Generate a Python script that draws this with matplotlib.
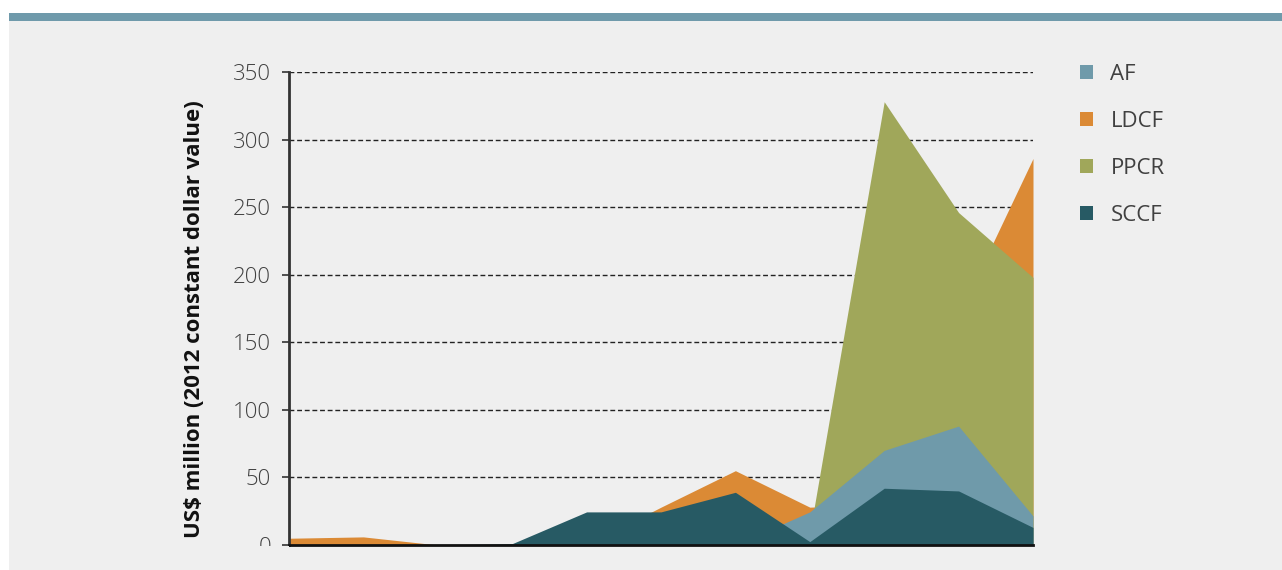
import matplotlib
matplotlib.use("Agg")
import matplotlib.pyplot as plt
from matplotlib.patches import Patch, Rectangle
import numpy as np

plt.rcParams['font.family'] = ['Open Sans', 'DejaVu Sans']

years = [2003, 2004, 2005, 2006, 2007, 2008, 2009, 2010, 2011, 2012, 2013]
ldcf = [5, 6, 0, 0, 0, 28, 55, 28, 30, 170, 286]
ppcr = [0, 0, 0, 0, 0, 0, 0, 9, 328, 246, 198]
af = [0, 0, 0, 0, 0, 0, 0, 24.5, 70, 88, 21.5]
sccf = [0, 0, 0, 1, 24.5, 24.5, 39, 2.5, 42, 40, 13]

colors = {'AF': '#6f9aaa', 'LDCF': '#db8a35', 'PPCR': '#a0a75a', 'SCCF': '#275a64'}
yticks = [0, 50, 100, 150, 200, 250, 300, 350]

W, H = 1282, 570
fig = plt.figure(figsize=(W / 100, H / 100), dpi=100, facecolor='white')

# panel background and top bar
fig.add_artist(Rectangle((9 / W, 0), 1 - 9 / W, 1 - 21 / H, transform=fig.transFigure,
                         facecolor='#efefef', edgecolor='none', zorder=-10))
fig.add_artist(Rectangle((9 / W, 1 - 21 / H), 1 - 9 / W, 8 / H, transform=fig.transFigure,
                         facecolor='#6f9aab', edgecolor='none', zorder=-10))

ax = fig.add_axes([289 / W, 25 / H, (1033 - 289) / W, (545 - 72) / H])
ax.set_facecolor('none')
x = np.arange(len(years))

for name, vals in [('LDCF', ldcf), ('PPCR', ppcr), ('AF', af), ('SCCF', sccf)]:
    ax.fill_between(x, 0, vals, color=colors[name], linewidth=0, zorder=2)

ax.set_xlim(0, len(years) - 1)
ax.set_ylim(0, 350)
ax.set_yticks(yticks)
ax.set_xticks([])
for yv in yticks[1:]:
    ax.axhline(yv, color='#222222', linewidth=1.0, linestyle=(0, (3.5, 2)), zorder=1)

for s in ['top', 'right']:
    ax.spines[s].set_visible(False)
ax.spines['left'].set_color('#333333')
ax.spines['left'].set_linewidth(2)
ax.spines['bottom'].set_color('#111111')
ax.spines['bottom'].set_linewidth(2)
ax.spines['bottom'].set_zorder(5)
ax.tick_params(axis='y', length=5, width=1.2, color='#333333', pad=8,
               labelsize=16, labelcolor='#404040')
for lab in ax.get_yticklabels():
    lab.set_fontweight('light')

fig.text(195 / W, 1 - 319 / H, 'US$ million (2012 constant dollar value)', rotation=90,
         ha='center', va='center', fontsize=16, fontweight='bold', color='#111111')

# cut-off at the bottom of the picture (the 0 label is clipped)
fig.add_artist(Rectangle((9 / W, 0), 280 / W, 24 / H, transform=fig.transFigure,
                         facecolor='#efefef', edgecolor='none', zorder=20))

handles = [Patch(facecolor=colors[n], edgecolor='none', label=n) for n in ['AF', 'LDCF', 'PPCR', 'SCCF']]
fig.legend(handles=handles, loc='upper left', bbox_to_anchor=(1060 / W, 1 - 44 / H),
           frameon=False, fontsize=16, handlelength=0.6, handleheight=0.6,
           handletextpad=0.77, labelspacing=1.17, labelcolor='#404040')

fig.savefig('out.png', dpi=100, facecolor=fig.get_facecolor())
